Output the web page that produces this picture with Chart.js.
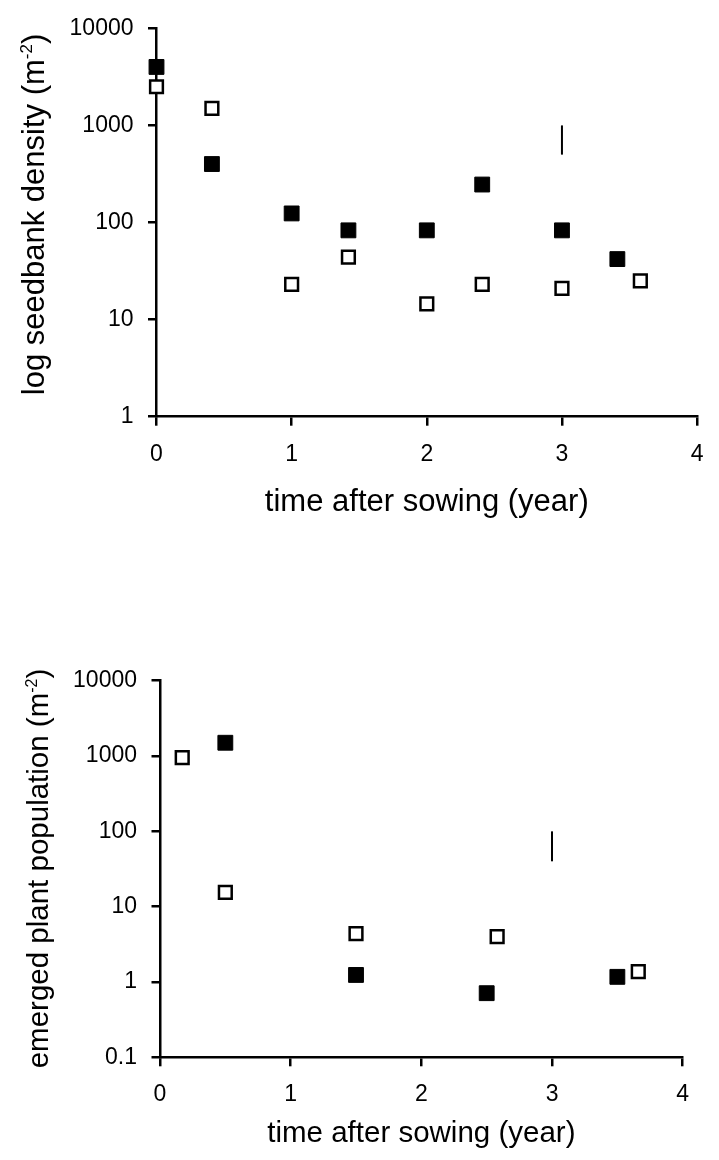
<!DOCTYPE html>
<html>
<head>
<meta charset="utf-8">
<script src="https://cdn.jsdelivr.net/npm/chart.js@4/dist/chart.umd.min.js"></script>
<style>
  body { margin: 0; background: #fff; }
  .box { position: absolute; left: 0; width: 719px; height: 580px; }
</style>
</head>
<body>
<div class="box" style="top:0"><canvas id="seedbank" width="719" height="580"></canvas></div>
<div class="box" style="top:580px"><canvas id="emerged" width="719" height="580"></canvas></div>
<script>
// data
const yearTicks = [0, 1, 2, 3, 4];

// seedbank density (m-2)
const seedYearsFilled = [0, 0.41, 1, 1.42, 2, 2.41, 3, 3.41];
const seedFilled = [4000, 400, 124, 83, 83, 246, 83, 42];
const seedYearsOpen = [0, 0.41, 1, 1.42, 2, 2.41, 3, 3.58];
const seedOpen = [2500, 1500, 23, 44, 14.5, 23, 21, 25];
const seedBarYears = [3, 3];
const seedBar = [500, 1000];
const seedTicks = [1, 10, 100, 1000, 10000];

// emerged plant population (m-2)
const plantYearsFilled = [0.5, 1.5, 2.5, 3.5];
const plantFilled = [1500, 1.24, 0.71, 1.17];
const plantYearsOpen = [0.17, 0.5, 1.5, 2.58, 3.66];
const plantOpen = [950, 15.5, 4.4, 4.0, 1.37];
const plantBarYears = [3, 3];
const plantBar = [40, 100];
const plantTicks = [0.1, 1, 10, 100, 1000, 10000];

Chart.defaults.font.family = '"Liberation Sans", Arial, sans-serif';
Chart.defaults.color = '#000';

function points(xs, ys) {
  return xs.map((x, i) => ({ x: x, y: ys[i] }));
}

// y title with a superscript, drawn on the canvas
const yTitlePlugin = {
  id: 'yTitle',
  afterDraw(chart, args, opts) {
    const ctx = chart.ctx;
    const fam = '"Liberation Sans", Arial, sans-serif';
    ctx.save();
    ctx.translate(opts.x, opts.y);
    ctx.rotate(-Math.PI / 2);
    ctx.fillStyle = '#000';
    ctx.textBaseline = 'alphabetic';
    ctx.textAlign = 'left';
    const big = opts.size + 'px ' + fam;
    const small = Math.round(opts.size * 0.55) + 'px ' + fam;
    ctx.font = big;
    const w1 = ctx.measureText(opts.text).width;
    const w3 = ctx.measureText(')').width;
    ctx.font = small;
    const w2 = ctx.measureText('-2').width;
    let x = -(w1 + w2 + w3) / 2;
    ctx.font = big;
    ctx.fillText(opts.text, x, 0);
    x += w1;
    ctx.font = small;
    ctx.fillText('-2', x, -opts.size * 0.38);
    x += w2;
    ctx.font = big;
    ctx.fillText(')', x, 0);
    ctx.restore();
  }
};

function makeChart(id, cfg) {
  return new Chart(document.getElementById(id), {
    type: 'scatter',
    data: {
      datasets: [
        {
          data: points(cfg.barX, cfg.bar),
          showLine: true,
          borderColor: '#000',
          borderWidth: 2,
          pointRadius: 0,
          clip: false
        },
        {
          data: points(cfg.openX, cfg.open),
          pointStyle: 'rect',
          pointRadius: 9,
          backgroundColor: '#fff',
          borderColor: '#000',
          borderWidth: 2.5,
          clip: false
        },
        {
          data: points(cfg.filledX, cfg.filled),
          pointStyle: 'rect',
          pointRadius: 10.5,
          backgroundColor: '#000',
          borderColor: '#000',
          borderWidth: 1,
          clip: false
        }
      ]
    },
    options: {
      responsive: false,
      animation: false,
      layout: { padding: cfg.padding },
      plugins: {
        legend: { display: false },
        tooltip: { enabled: false },
        yTitle: cfg.yTitle
      },
      scales: {
        x: {
          type: 'linear',
          min: 0,
          max: 4,
          afterFit: s => { s.height = cfg.xHeight; },
          afterBuildTicks: s => { s.ticks = yearTicks.map(v => ({ value: v })); },
          ticks: { font: { size: 23 }, padding: cfg.xTickPad, maxRotation: 0 },
          grid: { drawOnChartArea: false, drawTicks: true, tickLength: 9, color: '#000', lineWidth: 2.5 },
          border: { display: true, color: '#000', width: 2.5 },
          title: {
            display: true,
            text: 'time after sowing (year)',
            font: { size: cfg.xTitleSize },
            padding: { top: 0, bottom: cfg.xTitlePad }
          }
        },
        y: {
          type: 'logarithmic',
          min: cfg.ticks[0],
          max: cfg.ticks[cfg.ticks.length - 1],
          afterFit: s => { s.width = cfg.yWidth; },
          afterBuildTicks: s => { s.ticks = cfg.ticks.map(v => ({ value: v })); },
          ticks: { font: { size: 23 }, padding: 14.5, callback: v => String(v) },
          grid: { drawOnChartArea: false, drawTicks: true, tickLength: 8.5, color: '#000', lineWidth: 2.5 },
          border: { display: true, color: '#000', width: 2.5 }
        }
      }
    },
    plugins: [yTitlePlugin]
  });
}

makeChart('seedbank', {
  filledX: seedYearsFilled, filled: seedFilled,
  openX: seedYearsOpen, open: seedOpen,
  barX: seedBarYears, bar: seedBar,
  ticks: seedTicks,
  padding: { left: 0, right: 8.3, top: 20.7, bottom: 33.3 },
  yWidth: 156.5,
  xHeight: 130,
  xTickPad: 15.5,
  xTitleSize: 31,
  xTitlePad: 25.3,
  yTitle: { text: 'log seedbank density (m', size: 31, x: 44, y: 214.5 }
});

makeChart('emerged', {
  filledX: plantYearsFilled, filled: plantFilled,
  openX: plantYearsOpen, open: plantOpen,
  barX: plantBarYears, bar: plantBar,
  ticks: plantTicks,
  padding: { left: 0, right: 36.3, top: 100.7, bottom: 2.7 },
  yWidth: 160,
  xHeight: 100,
  xTickPad: 14.9,
  xTitleSize: 29.5,
  xTitlePad: 5.4,
  yTitle: { text: 'emerged plant population (m', size: 29.5, x: 48, y: 288.5 }
});
</script>
</body>
</html>
